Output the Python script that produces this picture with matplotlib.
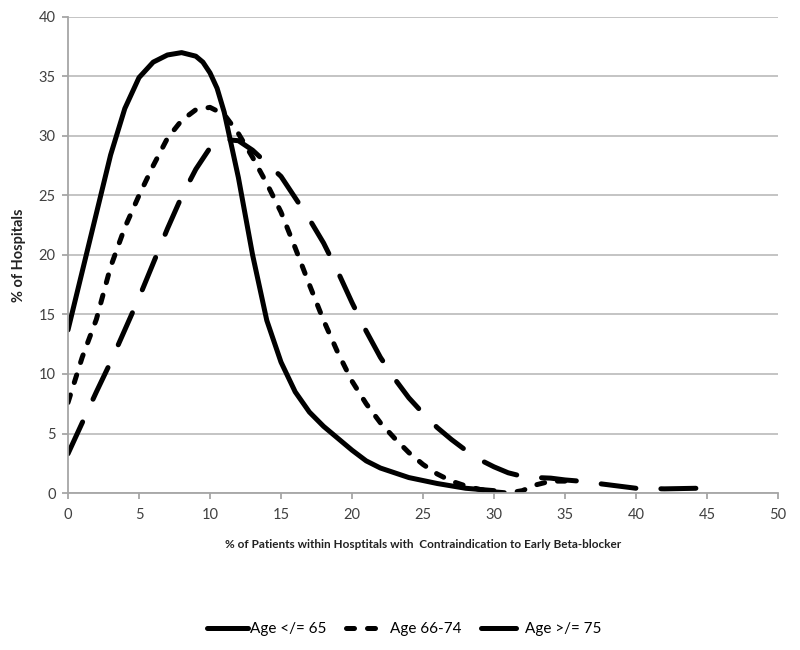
import matplotlib.pyplot as plt

# Excel-style smoothed distribution curves
x_young = [0, 1, 2, 3, 4, 5, 6, 7, 8, 9, 9.5, 10, 10.5, 11, 12, 13, 14, 15,
           16, 17, 18, 19, 20, 21, 22, 23, 24, 26, 28, 30]
y_young = [13.7, 18.6, 23.5, 28.4, 32.3, 34.9, 36.2, 36.8, 37.0, 36.7, 36.2,
           35.3, 34.0, 32.0, 26.5, 20.0, 14.5, 11.0, 8.5, 6.8, 5.6, 4.6, 3.6,
           2.7, 2.1, 1.7, 1.3, 0.8, 0.4, 0.2]

x_mid = [0, 1, 2, 3, 4, 5, 6, 7, 8, 9, 10, 11, 12, 13, 14, 15, 16, 17, 18, 19,
         20, 21, 22, 23, 24, 25, 26, 27, 28, 29, 30, 31, 32, 33, 34, 35]
y_mid = [7.6, 11.4, 14.6, 19.0, 22.3, 25.0, 27.5, 29.8, 31.3, 32.2, 32.4,
         31.8, 30.2, 28.2, 26.0, 23.6, 20.6, 17.5, 14.5, 11.8, 9.4, 7.5, 5.9,
         4.6, 3.4, 2.4, 1.6, 1.0, 0.6, 0.3, 0.1, 0.0, 0.2, 0.7, 1.0, 1.0]

x_old = [0, 1, 2, 3, 4, 5, 6, 7, 8, 9, 10, 11, 12, 13, 14, 15, 16, 17, 18, 19,
         20, 21, 22, 23, 24, 25, 26, 27, 28, 29, 30, 31, 32, 33, 34, 35, 36,
         38, 40, 42, 44.3]
y_old = [3.3, 5.9, 8.5, 11.0, 13.7, 16.4, 19.3, 22.2, 24.9, 27.2, 29.0, 29.7,
         29.6, 28.8, 27.7, 26.6, 24.8, 23.0, 21.0, 18.6, 16.0, 13.6, 11.4, 9.6,
         8.0, 6.7, 5.5, 4.5, 3.6, 2.8, 2.2, 1.7, 1.4, 1.3, 1.25, 1.1, 1.0, 0.7,
         0.4, 0.35, 0.4]

labels = ['Age </= 65', 'Age 66-74', 'Age >/= 75']

plt.rcParams['font.family'] = ['Lato', 'DejaVu Sans']

fig = plt.figure(figsize=(8, 6.5), dpi=100)
ax = fig.add_axes([0.085, 0.2415, 0.8875, 0.7325])

lw = 3.6
ax.plot(x_young, y_young, color='black', lw=lw, label=labels[0],
        solid_capstyle='round', solid_joinstyle='round')
ax.plot(x_mid, y_mid, color='black', lw=lw, dashes=(1.6, 2.6),
        dash_capstyle='round', label=labels[1])
ax.plot(x_old, y_old, color='black', lw=lw, dashes=(7.0, 5.0),
        dash_capstyle='round', label=labels[2])

ax.set_xlim(0, 50)
ax.set_ylim(0, 40)
ax.set_xticks(range(0, 51, 5))
ax.set_yticks(range(0, 41, 5))
ax.grid(axis='y', color='#bfbfbf', lw=1.3)
ax.set_axisbelow(True)

for s in ['top', 'right']:
    ax.spines[s].set_visible(False)
for s in ['left', 'bottom']:
    ax.spines[s].set_color('#a6a6a6')
    ax.spines[s].set_linewidth(1.3)
ax.tick_params(axis='both', colors='#a6a6a6', length=4, width=1.3,
               labelcolor='#404040', labelsize=10.5)
ax.tick_params(axis='x', pad=7)
ax.tick_params(axis='y', pad=5)

ax.set_xlabel('% of Patients within Hosptitals with  Contraindication to Early Beta-blocker',
              fontsize=8.5, fontweight='bold', color='#222222', labelpad=12)
ax.set_ylabel('% of Hospitals', fontsize=10.5, fontweight='bold',
              color='#222222', labelpad=9)

fig.legend(loc='lower center', bbox_to_anchor=(0.505, 0.0), ncol=3,
           frameon=False, fontsize=11, handlelength=2.7, handletextpad=0.15,
           columnspacing=1.3)

fig.savefig('out.png', dpi=100)
